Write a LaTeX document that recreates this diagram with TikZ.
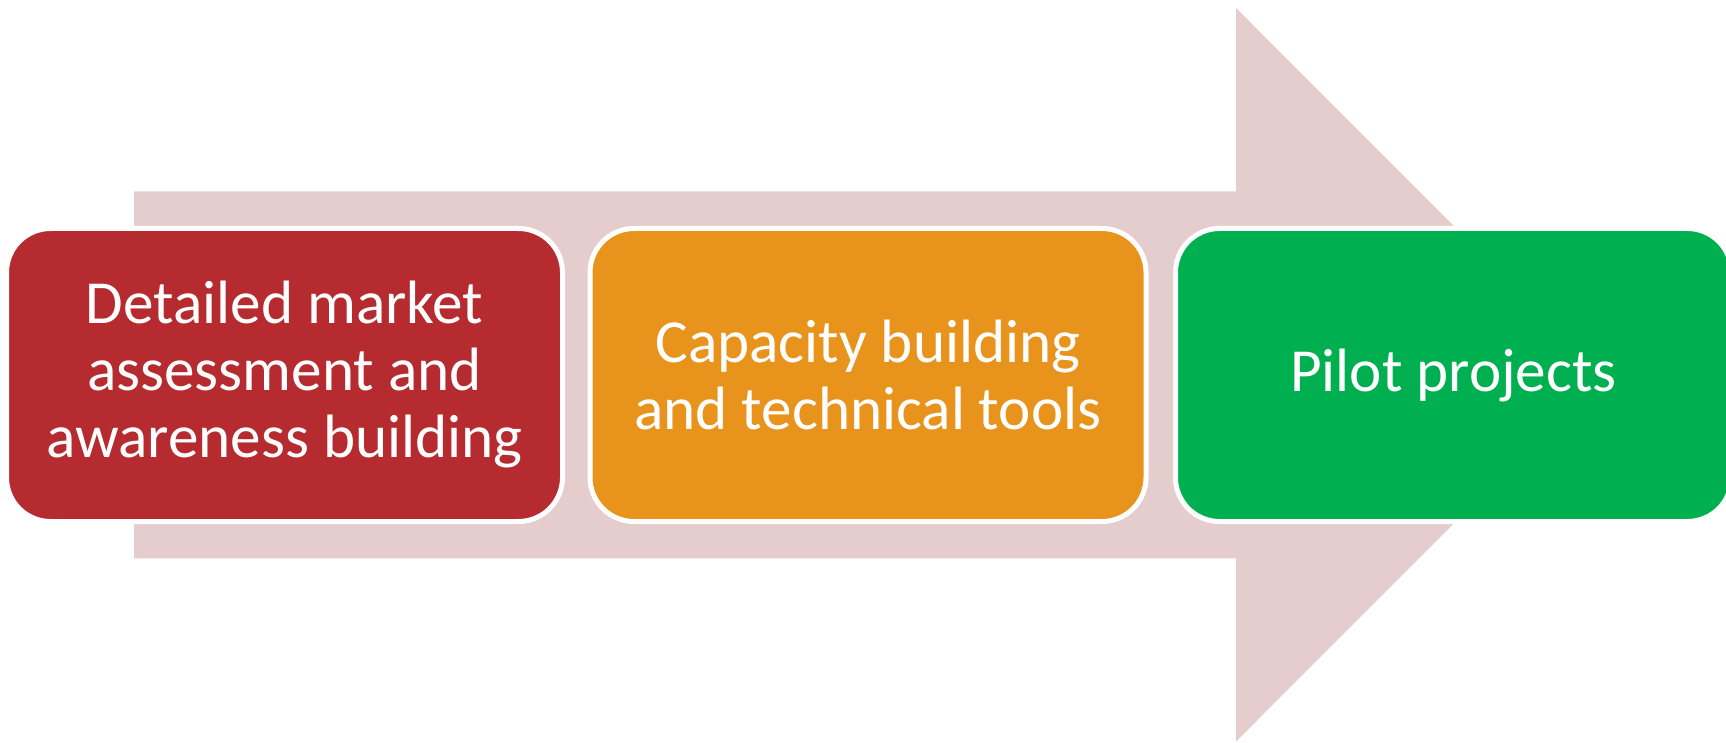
\documentclass[tikz,border=0pt]{standalone}
\usepackage{fontspec}
\setmainfont{Carlito}
\definecolor{arrowpink}{RGB}{229,205,206}
\definecolor{stepred}{RGB}{181,43,48}
\definecolor{steporange}{RGB}{232,147,27}
\definecolor{stepgreen}{RGB}{0,176,80}
\begin{document}
\begin{tikzpicture}[x=0.5pt,y=-0.5pt,
  stepbox/.style={rectangle, rounded corners=22pt, draw=white, line width=2.5pt,
    minimum width=278pt, minimum height=146.5pt, inner sep=0pt, align=center,
    text=white, font=\fontsize{30.6pt}{33.5pt}\selectfont}]
  \path[use as bounding box, clip] (0,0) rectangle (1726,743);
  \fill[white] (0,0) rectangle (1726,743);
  % broad background arrow
  \fill[arrowpink] (134,191.5) -- (1236,191.5) -- (1236,8) -- (1602.5,374.8)
    -- (1236,741.5) -- (1236,558.3) -- (134,558.3) -- cycle;
  % the three stages
  \node[stepbox, fill=stepred] (assess) at (284.5,375)
    {Detailed market\\assessment and\\awareness building};
  \node[stepbox, fill=steporange] (capacity) at (868,375)
    {Capacity building\\and technical tools};
  \node[stepbox, fill=stepgreen] (pilot) at (1453.5,375) {Pilot projects};
\end{tikzpicture}
\end{document}
